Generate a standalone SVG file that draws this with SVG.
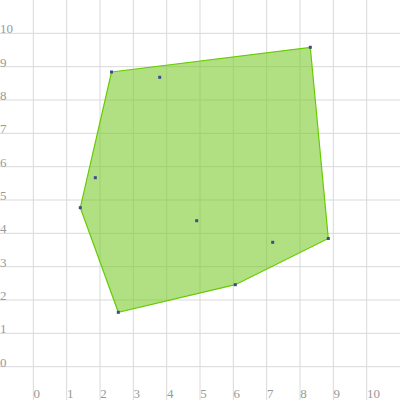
<svg xmlns="http://www.w3.org/2000/svg" width="400" height="400" viewBox="0 0 400 400">
  <style>
    .grid line { stroke: #d9d9d9; stroke-width: 1; }
    .lbl { font-family: "Liberation Serif", "DejaVu Serif", serif; font-size: 13px; fill: #999999; }
    .hull { fill: #7ccc2e; fill-opacity: 0.6; stroke: #66cc00; stroke-width: 1.2; stroke-linejoin: miter; }
    .pt { fill: #3d4a8c; }
  </style>
  <rect width="400" height="400" fill="#ffffff"/>
  <g class="grid">
    <line x1="33.33" y1="0" x2="33.33" y2="400"/>
    <line x1="66.67" y1="0" x2="66.67" y2="400"/>
    <line x1="100" y1="0" x2="100" y2="400"/>
    <line x1="133.33" y1="0" x2="133.33" y2="400"/>
    <line x1="166.67" y1="0" x2="166.67" y2="400"/>
    <line x1="200" y1="0" x2="200" y2="400"/>
    <line x1="233.33" y1="0" x2="233.33" y2="400"/>
    <line x1="266.67" y1="0" x2="266.67" y2="400"/>
    <line x1="300" y1="0" x2="300" y2="400"/>
    <line x1="333.33" y1="0" x2="333.33" y2="400"/>
    <line x1="366.67" y1="0" x2="366.67" y2="400"/>
    <line x1="0" y1="33.33" x2="400" y2="33.33"/>
    <line x1="0" y1="66.67" x2="400" y2="66.67"/>
    <line x1="0" y1="100" x2="400" y2="100"/>
    <line x1="0" y1="133.33" x2="400" y2="133.33"/>
    <line x1="0" y1="166.67" x2="400" y2="166.67"/>
    <line x1="0" y1="200" x2="400" y2="200"/>
    <line x1="0" y1="233.33" x2="400" y2="233.33"/>
    <line x1="0" y1="266.67" x2="400" y2="266.67"/>
    <line x1="0" y1="300" x2="400" y2="300"/>
    <line x1="0" y1="333.33" x2="400" y2="333.33"/>
    <line x1="0" y1="366.67" x2="400" y2="366.67"/>
  </g>
  <g id="x-labels" class="lbl">
    <text x="33.5" y="398">0</text>
    <text x="67" y="398">1</text>
    <text x="100.3" y="398">2</text>
    <text x="133.6" y="398">3</text>
    <text x="167" y="398">4</text>
    <text x="200.3" y="398">5</text>
    <text x="233.6" y="398">6</text>
    <text x="267" y="398">7</text>
    <text x="300.3" y="398">8</text>
    <text x="333.6" y="398">9</text>
    <text x="367" y="398">10</text>
  </g>
  <g id="y-labels" class="lbl">
    <text x="0" y="33.3">10</text>
    <text x="0" y="66.7">9</text>
    <text x="0" y="100">8</text>
    <text x="0" y="133.3">7</text>
    <text x="0" y="166.7">6</text>
    <text x="0" y="200">5</text>
    <text x="0" y="233.3">4</text>
    <text x="0" y="266.7">3</text>
    <text x="0" y="300">2</text>
    <text x="0" y="333.3">1</text>
    <text x="0" y="366.7">0</text>
  </g>
  <g id="hull">
    <polygon class="hull" points="111.5,72 310.3,47.3 328.3,238.5 235.3,284.7 118.3,312.3 80.3,207.7"/>
  </g>
  <g id="points" class="pt">
    <rect x="110" y="70.5" width="3" height="3"/>
    <rect x="308.8" y="45.8" width="3" height="3"/>
    <rect x="326.8" y="237" width="3" height="3"/>
    <rect x="233.8" y="283.2" width="3" height="3"/>
    <rect x="116.8" y="310.8" width="3" height="3"/>
    <rect x="78.8" y="206.2" width="3" height="3"/>
    <rect x="158.2" y="75.8" width="3" height="3"/>
    <rect x="93.8" y="176.2" width="3" height="3"/>
    <rect x="195.2" y="219.2" width="3" height="3"/>
    <rect x="271.2" y="240.8" width="3" height="3"/>
  </g>
</svg>
